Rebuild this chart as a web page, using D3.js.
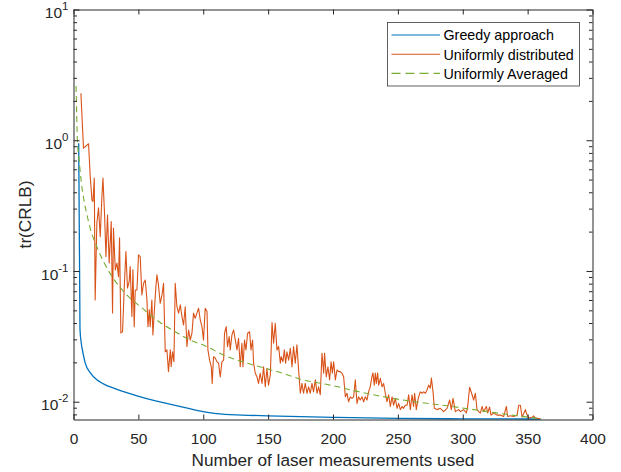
<!DOCTYPE html>
<html>
<head>
<meta charset="utf-8">
<script src="https://cdn.jsdelivr.net/npm/d3@7"></script>
<style>
  body { margin: 0; background: #fff; }
  svg { display: block; font-family: "Liberation Sans", Arial, Helvetica, sans-serif; }
  .axis path, .axis line { stroke: #262626; }
  .axis text { fill: #262626; }
</style>
</head>
<body>
<div id="chart"></div>
<script>
// ---- data ----
const xTicks = [0, 50, 100, 150, 200, 250, 300, 350, 400];
const yMajor = [0.01, 0.1, 1, 10];
const seriesNames = ["Greedy approach", "Uniformly distributed", "Uniformly Averaged"];
const xLabel = "Number of laser measurements used";
const yLabel = "tr(CRLB)";

// greedy approach [measurements, tr(CRLB)]
const greedy = [[4,0.95],[5,0.036],[6,0.028],[7,0.0245],[8,0.0218],[9,0.0198],[13,0.0166],[18,0.0147],
  [23,0.0137],[33,0.0125],[49,0.0111],[64,0.0101],[80,0.0093],[97,0.0085],[110,0.0081],[130,0.0079],
  [150,0.0078],[200,0.0076],[250,0.00745],[300,0.0074],[360,0.00737]];

// uniformly averaged
const averaged = [[2,2.6],[3,1.0],[4,0.75],[5,0.6],[6,0.48],[8,0.35],[10,0.28],[13,0.21],[18,0.153],
  [24.5,0.111],[32,0.084],[41,0.0656],[53,0.052],[64,0.0422],[77,0.0349],[90,0.0296],[101.6,0.0267],
  [115.5,0.0228],[134,0.0197],[157,0.017],[177,0.0147],[198,0.0134],[220,0.0119],[254,0.0103],
  [288,0.0093],[319,0.0084],[342,0.0078],[361,0.0074]];

// uniformly distributed
const uniform = [[5.7,2.29],[7.7,0.87],[11.6,0.94],[12.9,0.527],[14.2,0.35],[15,0.34],[16,0.513],[16.7,0.06],[18,0.233],[19.3,0.304],[20.6,0.183],[21.9,0.371],[22.7,0.513],[23.9,0.278],[25,0.129],[26.2,0.268],[27.5,0.115],[29.1,0.239],[30.1,0.0478],[30.8,0.213],[32.2,0.102],[33.5,0.115],[34.7,0.0905],[35.5,0.179],[36.5,0.0336],[37.8,0.0343],[39.1,0.0741],[40.4,0.141],[41.6,0.0741],[42.9,0.0828],[43.7,0.108],[45,0.0448],[45.8,0.102],[46.8,0.0375],[47.6,0.0716],[48.9,0.0716],[50.1,0.133],[51.4,0.129],[52.7,0.0656],[54,0.0805],[55.3,0.0853],[56.6,0.06],[57.4,0.0375],[58.4,0.0504],[59.1,0.0375],[60.4,0.06],[61.2,0.0324],[62.5,0.0533],[63.5,0.0759],[64.3,0.0933],[65.5,0.0782],[66.8,0.0566],[68.2,0.0656],[69.4,0.0805],[70.7,0.0241],[72,0.0249],[73.2,0.017],[74.6,0.0249],[75.3,0.0185],[76.3,0.0241],[77.4,0.0202],[78.4,0.0805],[79.7,0.0533],[81,0.0476],[82.3,0.055],[83.6,0.0448],[84.8,0.0386],[86.1,0.0533],[87.4,0.0264],[88.7,0.0354],[90,0.0296],[91.3,0.0334],[92.5,0.0476],[93.8,0.0435],[95.1,0.0476],[96.4,0.0519],[97.7,0.0422],[99,0.0375],[100.2,0.0296],[101.5,0.0519],[102.9,0.0489],[103.6,0.0249],[104.9,0.0208],[106.2,0.0185],[106.9,0.0138],[107.9,0.0221],[109.3,0.0215],[110.6,0.0202],[111.8,0.0197],[113.1,0.0155],[114.4,0.0202],[115.7,0.0208],[116.4,0.0334],[117.7,0.0375],[118.7,0.0264],[120,0.0315],[120.8,0.0249],[122.1,0.0324],[123.4,0.0354],[124.7,0.0296],[126,0.0249],[127.2,0.0306],[128.5,0.0185],[129.8,0.028],[130.6,0.0185],[131.8,0.0296],[132.9,0.0249],[134.2,0.0334],[135.7,0.0343],[136.8,0.0249],[138,0.0296],[138.8,0.0197],[140.1,0.0165],[141.4,0.0155],[142.6,0.0138],[143.9,0.0165],[145.3,0.0138],[146.5,0.0185],[147.8,0.013],[149.1,0.018],[150.3,0.0134],[151.7,0.016],[153,0.0403],[154.2,0.028],[155.5,0.0398],[156.8,0.0249],[158.1,0.0264],[159.4,0.0197],[160.1,0.0221],[161.4,0.0202],[162.5,0.0249],[163.5,0.0197],[164.5,0.0241],[165.8,0.0208],[167.1,0.0256],[168.4,0.0185],[169.6,0.0264],[170.9,0.0197],[172.2,0.0272],[173.5,0.0175],[174.8,0.0116],[176.1,0.0138],[177.3,0.0116],[178.6,0.0138],[180,0.0116],[181.2,0.013],[182.5,0.0116],[183.8,0.0138],[185,0.0119],[186.4,0.0147],[187.7,0.0116],[188.9,0.013],[190.2,0.0113],[191.5,0.0235],[192.8,0.0165],[193.5,0.0235],[194.8,0.0155],[196.1,0.0185],[197.4,0.0147],[198.5,0.0202],[199.5,0.0165],[200.5,0.0202],[201.8,0.0147],[203.1,0.0175],[204.3,0.017],[205.6,0.017],[206.9,0.0165],[208.2,0.0155],[209.5,0.0109],[210.8,0.0116],[212,0.01],[213.3,0.0109],[214.6,0.0106],[215.9,0.0109],[217.2,0.0147],[218.5,0.0097],[219.7,0.0109],[221,0.0103],[222.4,0.0109],[223.6,0.01],[224.9,0.0109],[226.2,0.0103],[227.4,0.0119],[228.7,0.013],[230,0.0155],[230.8,0.0166],[231.8,0.0134],[232.6,0.0166],[233.4,0.0138],[234.4,0.0166],[235.2,0.0134],[236.5,0.0151],[237.8,0.013],[239,0.0138],[240.3,0.0116],[241.6,0.01],[242.9,0.0113],[244.2,0.0092],[245.5,0.0109],[246.7,0.0094],[248,0.0106],[249.4,0.0089],[250.6,0.0097],[251.9,0.0087],[253.2,0.0092],[254.4,0.0089],[255.7,0.0094],[257.1,0.0094],[258.3,0.0113],[259.6,0.0087],[260.9,0.0113],[262.1,0.0092],[262.9,0.0116],[264.2,0.0087],[265.2,0.01],[266,0.0109],[267.3,0.0119],[268.6,0.0116],[269.9,0.0119],[271.2,0.0116],[272.5,0.0123],[273.7,0.0134],[275,0.0127],[275.8,0.0152],[277.1,0.0119],[278.1,0.0089],[280.2,0.0087],[282.7,0.0089],[285.3,0.0084],[287.9,0.0089],[289.9,0.0103],[291.2,0.0087],[292.5,0.0106],[294.3,0.0084],[296.8,0.0087],[298.2,0.0084],[300.7,0.0087],[302.8,0.0082],[303.8,0.0092],[305.3,0.0129],[307.2,0.0113],[308.4,0.0103],[309.7,0.0116],[311,0.0087],[312.3,0.0084],[313.6,0.0082],[314.9,0.0092],[316.1,0.0084],[318.2,0.0092],[319.2,0.0082],[320.7,0.0091],[321.8,0.0079],[323.8,0.0082],[326.4,0.0079],[329,0.0079],[331.5,0.0077],[333.6,0.0092],[334.6,0.0077],[336.7,0.0078],[339.2,0.0077],[341.9,0.0079],[343.1,0.0094],[344.4,0.0094],[345.7,0.0076],[348.3,0.0087],[349,0.0082],[350.8,0.0075],[353.4,0.0076],[354.6,0.0078],[356,0.0075],[359.8,0.0074]];

const colors = ["#0072BD", "#D95319", "#77AC30"];

// ---- layout ----
const width = 621, height = 472;
const margin = {top: 9.5, right: 28.5, bottom: 52.5, left: 73.5};
const innerW = width - margin.left - margin.right;
const innerH = height - margin.top - margin.bottom;

const svg = d3.select("#chart").append("svg")
    .attr("width", width)
    .attr("height", height);

const g = svg.append("g")
    .attr("transform", `translate(${margin.left},${margin.top})`);

const x = d3.scaleLinear().domain([0, 400]).range([0, innerW]);
const y = d3.scaleLog().domain([0.00731, 10]).range([innerH, 0]);

// minor log ticks
const yMinor = [];
[-3, -2, -1, 0].forEach(e => {
    for (let k = 2; k <= 9; k++) {
        const v = k * Math.pow(10, e);
        if (v >= y.domain()[0] && v <= y.domain()[1]) yMinor.push(v);
    }
});

// ---- lines ----
g.append("clipPath").attr("id", "clip")
    .append("rect").attr("width", innerW).attr("height", innerH + 1);

const plot = g.append("g").attr("clip-path", "url(#clip)");

const smooth = d3.line().x(d => x(d[0])).y(d => y(d[1])).curve(d3.curveMonotoneX);
const straight = d3.line().x(d => x(d[0])).y(d => y(d[1]));

plot.append("path").datum(greedy)
    .attr("d", smooth)
    .attr("fill", "none")
    .attr("stroke", colors[0])
    .attr("stroke-width", 1.3);

plot.append("path").datum(uniform)
    .attr("d", straight)
    .attr("fill", "none")
    .attr("stroke", colors[1])
    .attr("stroke-width", 1.1)
    .attr("stroke-linejoin", "round");

plot.append("path").datum(averaged)
    .attr("d", smooth)
    .attr("fill", "none")
    .attr("stroke", colors[2])
    .attr("stroke-width", 1.1)
    .attr("stroke-dasharray", "6,4");

// ---- axes ----
const fontTick = 15.5;

const xAxisG = g.append("g").attr("class", "axis")
    .attr("transform", `translate(0,${innerH})`)
    .call(d3.axisBottom(x).tickValues(xTicks).tickSize(-5).tickSizeOuter(0).tickPadding(13));
xAxisG.selectAll("text").attr("font-size", fontTick).attr("font-family", null);

g.append("g").attr("class", "axis")
    .call(d3.axisTop(x).tickValues(xTicks).tickSize(-5).tickSizeOuter(0).tickFormat(""));

const yAxisG = g.append("g").attr("class", "axis")
    .call(d3.axisLeft(y).tickValues(yMajor).tickSize(-6).tickSizeOuter(0).tickPadding(5).tickFormat(""));
yAxisG.selectAll(".tick text")
    .attr("font-size", fontTick)
    .attr("dy", "0.52em")
    .each(function(d) {
        const t = d3.select(this);
        t.append("tspan").text("10");
        t.append("tspan")
            .attr("dy", -8)
            .attr("font-size", 11.5)
            .text(Math.round(Math.log10(d)));
    });

g.append("g").attr("class", "axis")
    .call(d3.axisLeft(y).tickValues(yMinor).tickSize(-3.5).tickSizeOuter(0).tickFormat(""))
    .select(".domain").remove();

g.append("g").attr("class", "axis")
    .attr("transform", `translate(${innerW},0)`)
    .call(d3.axisRight(y).tickValues(yMajor).tickSize(-6).tickSizeOuter(0).tickFormat(""));

g.append("g").attr("class", "axis")
    .attr("transform", `translate(${innerW},0)`)
    .call(d3.axisRight(y).tickValues(yMinor).tickSize(-3.5).tickSizeOuter(0).tickFormat(""))
    .select(".domain").remove();

// axis labels
svg.append("text")
    .attr("x", margin.left + innerW / 2)
    .attr("y", 466)
    .attr("text-anchor", "middle")
    .attr("font-size", 17.2)
    .attr("fill", "#262626")
    .text(xLabel);

svg.append("text")
    .attr("transform", `translate(30.5,${margin.top + innerH / 2}) rotate(-90)`)
    .attr("text-anchor", "middle")
    .attr("font-size", 17.2)
    .attr("fill", "#262626")
    .text(yLabel);

// ---- legend ----
const legend = svg.append("g").attr("class", "legend");

legend.append("rect")
    .attr("x", 387.5)
    .attr("y", 22.5)
    .attr("width", 192)
    .attr("height", 63.5)
    .attr("fill", "#fff")
    .attr("stroke", "#3a3a3a")
    .attr("stroke-width", 0.8);

seriesNames.forEach((name, i) => {
    const ly = 35 + i * 19.2;
    legend.append("line")
        .attr("x1", 391.5).attr("x2", 440)
        .attr("y1", ly).attr("y2", ly)
        .attr("stroke", colors[i])
        .attr("stroke-width", 1.1)
        .attr("stroke-dasharray", i === 2 ? "9,5" : null);
    legend.append("text")
        .attr("x", 443.5)
        .attr("y", ly + 5.4)
        .attr("font-size", 14.3)
        .attr("fill", "#000")
        .text(name);
});
</script>
</body>
</html>
